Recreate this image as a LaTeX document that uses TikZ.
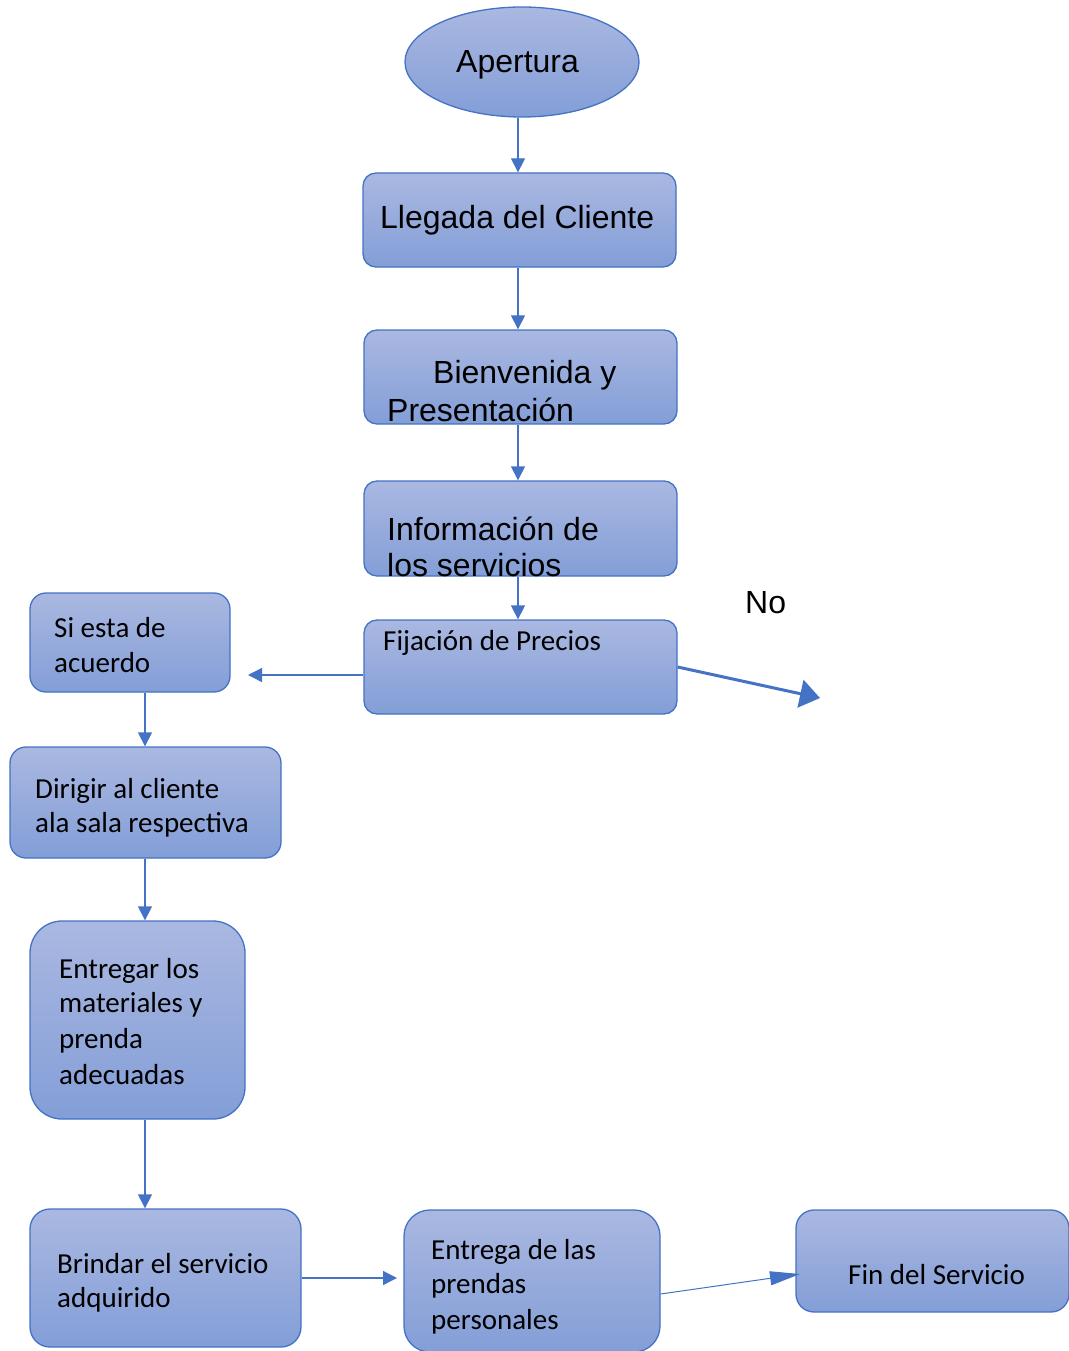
\documentclass[tikz,border=0pt]{standalone}
\usepackage{fontspec}
\newfontfamily\arialf{Liberation Sans}
\newfontfamily\calf{Carlito}
\usetikzlibrary{arrows.meta,shapes.geometric}
\definecolor{bordc}{RGB}{68,114,196}
\definecolor{topc}{RGB}{170,184,225}
\definecolor{botc}{RGB}{131,158,215}
\tikzset{
  boxs/.style={draw=bordc, line width=1.3pt, top color=topc, bottom color=botc, inner sep=0pt, rounded corners=13pt},
  arr/.style={draw=bordc, line width=1.3pt, -{Triangle[length=14pt,width=14pt]}},
  ta/.style={anchor=base west, inner sep=0pt, font=\arialf\fontsize{32}{37}\selectfont},
  tc/.style={anchor=base west, inner sep=0pt, font=\calf\fontsize{29}{35}\selectfont},
}
\begin{document}
\begin{tikzpicture}[x=1pt,y=-1pt]
\useasboundingbox (0,0) rectangle (1068,1351);
% nodes
\node[ellipse, draw=bordc, line width=1.3pt, top color=topc, bottom color=botc, minimum width=234pt, minimum height=110pt, inner sep=0pt] (b1) at (522,62) {};
\node[boxs, minimum width=313pt, minimum height=94pt] (b2) at (519.5,220) {};
\node[boxs, minimum width=313pt, minimum height=94pt] (b3) at (520.5,377) {};
\node[boxs, minimum width=313pt, minimum height=95pt] (b4) at (520.5,528.5) {};
\node[boxs, minimum width=313pt, minimum height=94pt] (b5) at (520.5,667) {};
\node[boxs, rounded corners=16pt, minimum width=200pt, minimum height=99pt] (b6) at (130,642.5) {};
\node[boxs, rounded corners=16pt, minimum width=271pt, minimum height=111pt] (b7) at (145.5,802.5) {};
\node[boxs, rounded corners=32pt, minimum width=215pt, minimum height=198pt] (b8) at (137.5,1020) {};
\node[boxs, rounded corners=20pt, minimum width=271pt, minimum height=138pt] (b9) at (165.5,1278) {};
\node[boxs, rounded corners=26pt, minimum width=256pt, minimum height=142pt] (b10) at (532,1281) {};
\node[boxs, rounded corners=18pt, minimum width=273pt, minimum height=102pt] (b11) at (932.5,1261) {};
% texts
\node[ta] (t1) at (456,73) {Apertura};
\node[ta] (t2) at (380,229) {Llegada del Cliente};
\node[ta] (t3a) at (433,383) {Bienvenida y};
\node[ta] (t3b) at (387,421) {Presentación};
\node[ta] (t4a) at (387,540) {Información de};
\node[ta] (t4b) at (387,576) {los servicios};
\node[tc] (t5) at (383,650) {Fijación de Precios};
\node[ta] (tno) at (745,613) {No};
\node[tc] (t6a) at (54,637) {Si esta de};
\node[tc] (t6b) at (54,672) {acuerdo};
\node[tc] (t7a) at (35,798) {Dirigir al cliente};
\node[tc] (t7b) at (35,832) {ala sala respectiva};
\node[tc] (t8a) at (59,978) {Entregar los};
\node[tc] (t8b) at (59,1012) {materiales y};
\node[tc] (t8c) at (59,1048) {prenda};
\node[tc] (t8d) at (59,1084) {adecuadas};
\node[tc] (t9a) at (57,1273) {Brindar el servicio};
\node[tc] (t9b) at (57,1307) {adquirido};
\node[tc] (t10a) at (431,1259) {Entrega de las};
\node[tc] (t10b) at (431,1293) {prendas};
\node[tc] (t10c) at (431,1329) {personales};
\node[tc] (t11) at (848,1284) {Fin del Servicio};
% coordinates
\coordinate (c1) at (248,675);
\coordinate (c2) at (397,1278);
\coordinate (c3) at (800,1274);
\coordinate (c4) at (820,698);
\coordinate (x518) at (518,0);
\coordinate (x145) at (145,0);
% connectors
\draw[arr] (b1.south -| x518) -- (b2.north -| x518);
\draw[arr] (b2.south -| x518) -- (b3.north -| x518);
\draw[arr] (b3.south -| x518) -- (b4.north -| x518);
\draw[arr] (b4.south -| x518) -- (b5.north -| x518);
\draw[arr] (b5.west |- c1) -- (c1);
\draw[draw=bordc, line width=3pt, -{Triangle[length=20pt,width=28pt]}] ([yshift=0pt]b5.east) -- (c4);
\draw[arr] (b6.south -| x145) -- (b7.north -| x145);
\draw[arr] (b7.south -| x145) -- (b8.north -| x145);
\draw[arr] (b8.south -| x145) -- (b9.north -| x145);
\draw[arr] (b9.east |- c2) -- (c2);
\draw[draw=bordc, line width=1pt, -{Triangle[length=30pt,width=14pt]}] ([yshift=-13pt]b10.east) -- (c3);
\end{tikzpicture}
\end{document}
